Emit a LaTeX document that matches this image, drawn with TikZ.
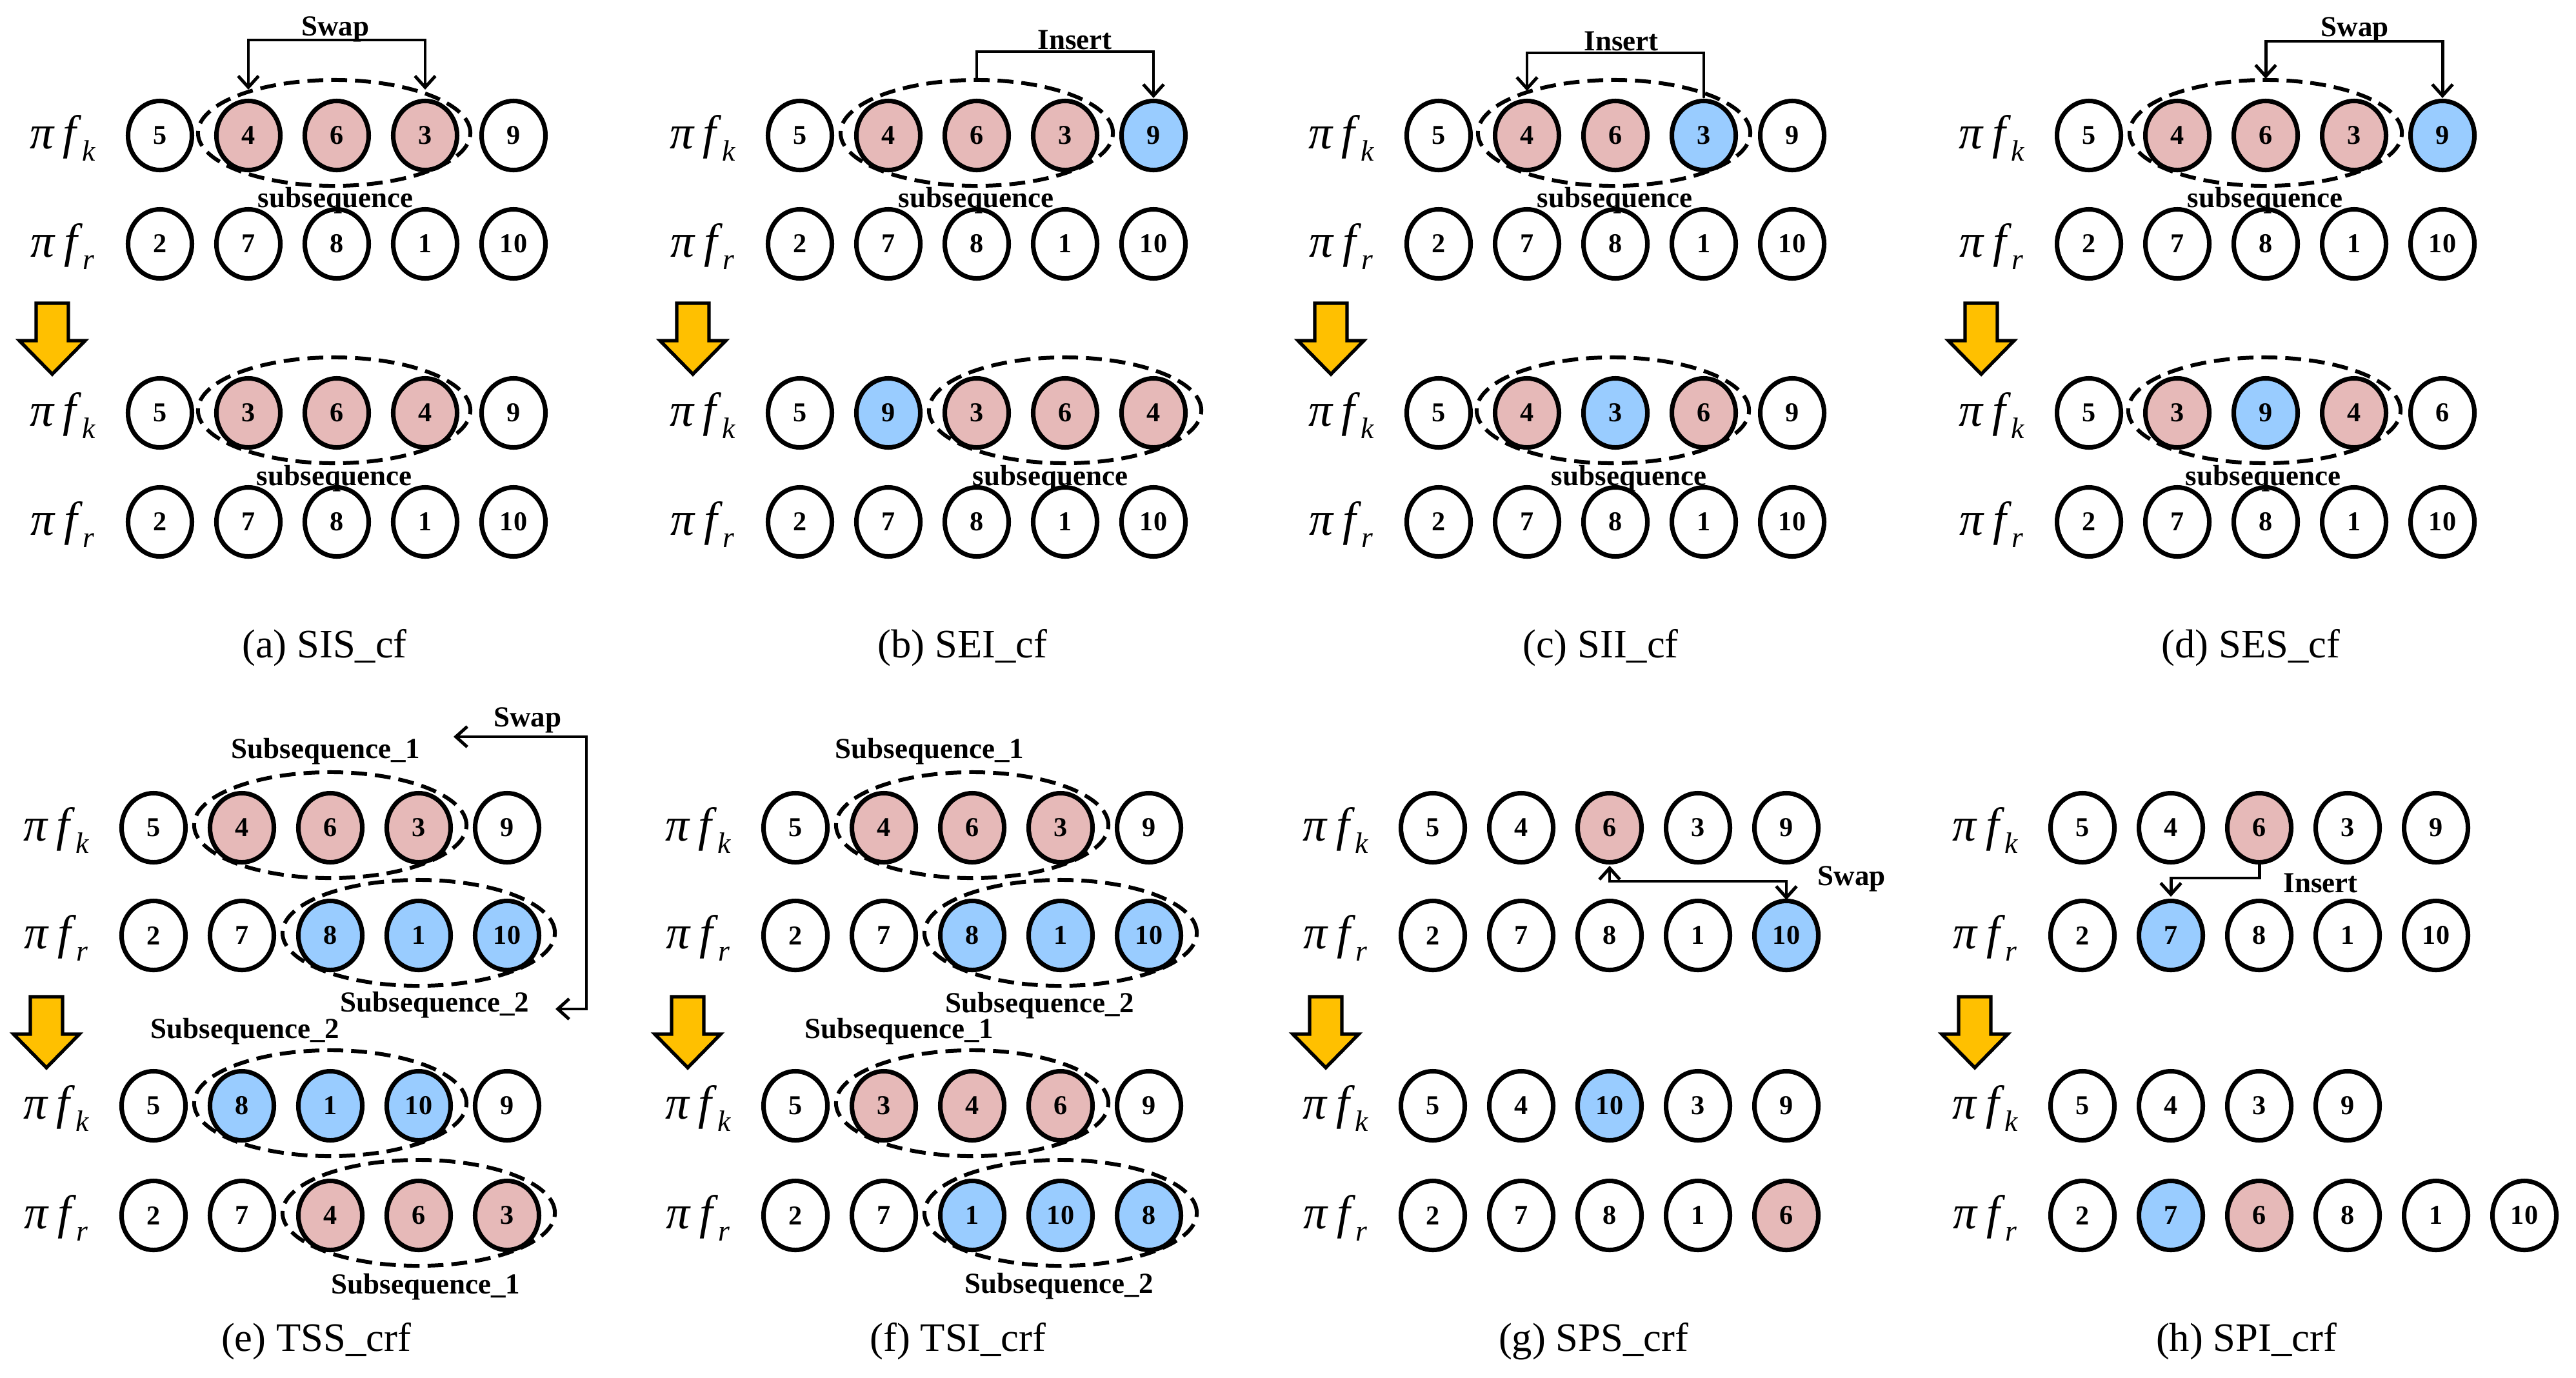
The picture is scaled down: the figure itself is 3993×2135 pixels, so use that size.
\documentclass[tikz,border=0pt]{standalone}
\usepackage{fontspec}
\setmainfont{Liberation Serif}
\usetikzlibrary{shapes.geometric,arrows.meta,calc}
\definecolor{pinkc}{HTML}{E6B9B8}
\definecolor{bluec}{HTML}{99CCFF}
\definecolor{yellowc}{HTML}{FFC000}
\newcommand\numfont{\fontsize{12}{14}\selectfont\bfseries}
\newcommand\lblfont{\fontsize{12.8}{15}\selectfont\bfseries}
\newcommand\capfont{\fontsize{17.8}{20}\selectfont}
\newcommand\pifont{\fontsize{21}{24}\selectfont\itshape}
\newcommand\subfont{\fontsize{13}{15}\selectfont\itshape}
\newcommand\permrow[4]{%
  \foreach \v/\c [count=\i] in {#4} {
    \node[cell, fill=\c] (#1-\i) at ({#2+137*(\i-1)},#3) {\v};
  }}
\newcommand\pilabel[4]{%
  \node[pilbl] (#1) at (#2,#3) {\pifont π\hspace{0.2em}f\hspace{0.12em}\raisebox{-0.26em}{\subfont #4}};}
\newcommand\yelarrow[3]{%
  \draw[yarr, shift={(#2,#3)}] (-25,0) -- (25,0) -- (25,58) -- (51,58) -- (0,110) -- (-51,58) -- (-25,58) -- cycle;}
\tikzset{
  cell/.style={ellipse, draw, line width=2pt, minimum width=0.99cm, minimum height=1.07cm, inner sep=0pt, font=\numfont},
  subseq/.style={ellipse, draw, line width=1.7pt, dash pattern=on 7pt off 3.5pt, minimum width=4.22cm, minimum height=1.64cm, inner sep=0pt},
  pilbl/.style={anchor=base, inner sep=0pt},
  lbl/.style={anchor=base, inner sep=0pt, font=\lblfont},
  capt/.style={anchor=base, inner sep=0pt, font=\capfont},
  link/.style={line width=1.4pt, line cap=round, line join=miter},
  barb/.tip={Straight Barb[length=5pt,width=9pt]},
  yarr/.style={draw=black, fill=yellowc, line width=1.5pt, line join=miter}
}
\begin{document}
\begin{tikzpicture}[x=0.01cm, y=-0.01cm]
\fill[white] (0,0) rectangle (3993,2135);
\useasboundingbox (0,0) rectangle (3993,2135);

% ===================== (a) SIS_cf =====================
\permrow{a1}{248}{210}{5/white,4/pinkc,6/pinkc,3/pinkc,9/white}
\permrow{a2}{248}{378}{2/white,7/white,8/white,1/white,10/white}
\permrow{a3}{248}{640}{5/white,3/pinkc,6/pinkc,4/pinkc,9/white}
\permrow{a4}{248}{809}{2/white,7/white,8/white,1/white,10/white}
\pilabel{a-p1}{97}{230}{k}
\pilabel{a-p2}{97}{398}{r}
\pilabel{a-p3}{97}{660}{k}
\pilabel{a-p4}{97}{829}{r}
\node[subseq] (a-e1) at (518,206) {};
\node[subseq] (a-e3) at (518,636) {};
\node[lbl] (a-l1) at (520,321) {subsequence};
\node[lbl] (a-l3) at (518,752) {subsequence};
\coordinate (a-t1) at (385,139);
\coordinate (a-t2) at (659,139);
\coordinate (a-bar) at (522,62);
\draw[link, barb-barb] (a-t1) |- (a-bar) -| (a-t2);
\node[lbl] (a-sw) at (520,55) {Swap};
\yelarrow{a-y}{81}{470}
\node[capt] (a-cap) at (503,1019) {(a) SIS\_cf};

% ===================== (b) SEI_cf =====================
\permrow{b1}{1240}{210}{5/white,4/pinkc,6/pinkc,3/pinkc,9/bluec}
\permrow{b2}{1240}{378}{2/white,7/white,8/white,1/white,10/white}
\permrow{b3}{1240}{640}{5/white,9/bluec,3/pinkc,6/pinkc,4/pinkc}
\permrow{b4}{1240}{809}{2/white,7/white,8/white,1/white,10/white}
\pilabel{b-p1}{1089}{230}{k}
\pilabel{b-p2}{1089}{398}{r}
\pilabel{b-p3}{1089}{660}{k}
\pilabel{b-p4}{1089}{829}{r}
\node[subseq] (b-e1) at (1514,206) {};
\node[subseq] (b-e3) at (1651,636) {};
\node[lbl] (b-l1) at (1513,321) {subsequence};
\node[lbl] (b-l3) at (1628,752) {subsequence};
\coordinate (b-t) at (1788,152);
\coordinate (b-bar) at (1650,80);
\draw[link, -barb] (b-e1.north) |- (b-bar) -| (b-t);
\node[lbl] (b-in) at (1666,76) {Insert};
\yelarrow{b-y}{1074}{470}
\node[capt] (b-cap) at (1492,1019) {(b) SEI\_cf};

% ===================== (c) SII_cf =====================
\permrow{c1}{2230}{210}{5/white,4/pinkc,6/pinkc,3/bluec,9/white}
\permrow{c2}{2230}{378}{2/white,7/white,8/white,1/white,10/white}
\permrow{c3}{2230}{640}{5/white,4/pinkc,3/bluec,6/pinkc,9/white}
\permrow{c4}{2230}{809}{2/white,7/white,8/white,1/white,10/white}
\pilabel{c-p1}{2079}{230}{k}
\pilabel{c-p2}{2079}{398}{r}
\pilabel{c-p3}{2079}{660}{k}
\pilabel{c-p4}{2079}{829}{r}
\node[subseq] (c-e1) at (2502,206) {};
\node[subseq] (c-e3) at (2500,636) {};
\node[lbl] (c-l1) at (2503,321) {subsequence};
\node[lbl] (c-l3) at (2525,752) {subsequence};
\coordinate (c-s) at (2641,150);
\coordinate (c-t) at (2367,141);
\coordinate (c-bar) at (2500,82);
\draw[link, -barb] (c-s) |- (c-bar) -| (c-t);
\node[lbl] (c-in) at (2513,78) {Insert};
\yelarrow{c-y}{2063}{470}
\node[capt] (c-cap) at (2481,1019) {(c) SII\_cf};

% ===================== (d) SES_cf =====================
\permrow{d1}{3238}{210}{5/white,4/pinkc,6/pinkc,3/pinkc,9/bluec}
\permrow{d2}{3238}{378}{2/white,7/white,8/white,1/white,10/white}
\permrow{d3}{3238}{640}{5/white,3/pinkc,9/bluec,4/pinkc,6/white}
\permrow{d4}{3238}{809}{2/white,7/white,8/white,1/white,10/white}
\pilabel{d-p1}{3087}{230}{k}
\pilabel{d-p2}{3087}{398}{r}
\pilabel{d-p3}{3087}{660}{k}
\pilabel{d-p4}{3087}{829}{r}
\node[subseq] (d-e1) at (3512,206) {};
\node[subseq] (d-e3) at (3510,636) {};
\node[lbl] (d-l1) at (3511,321) {subsequence};
\node[lbl] (d-l3) at (3508,752) {subsequence};
\coordinate (d-t1) at (3512,122);
\coordinate (d-t2) at (3786,152);
\coordinate (d-bar) at (3650,64);
\draw[link, barb-barb] (d-t1) |- (d-bar) -| (d-t2);
\node[lbl] (d-sw) at (3650,56) {Swap};
\yelarrow{d-y}{3071}{470}
\node[capt] (d-cap) at (3489,1019) {(d) SES\_cf};

% ===================== (e) TSS_crf =====================
\permrow{e1}{238}{1283}{5/white,4/pinkc,6/pinkc,3/pinkc,9/white}
\permrow{e2}{238}{1450}{2/white,7/white,8/bluec,1/bluec,10/bluec}
\permrow{e3}{238}{1714}{5/white,8/bluec,1/bluec,10/bluec,9/white}
\permrow{e4}{238}{1884}{2/white,7/white,4/pinkc,6/pinkc,3/pinkc}
\pilabel{e-p1}{87}{1303}{k}
\pilabel{e-p2}{87}{1470}{r}
\pilabel{e-p3}{87}{1734}{k}
\pilabel{e-p4}{87}{1904}{r}
\node[subseq] (e-e1) at (512,1279) {};
\node[subseq] (e-e2) at (649,1446) {};
\node[subseq] (e-e3) at (512,1710) {};
\node[subseq] (e-e4) at (649,1880) {};
\node[lbl] (e-l1) at (505,1175) {Subsequence\_1};
\node[lbl] (e-l2) at (674,1568) {Subsequence\_2};
\node[lbl] (e-l3) at (380,1609) {Subsequence\_2};
\node[lbl] (e-l4) at (660,2005) {Subsequence\_1};
\coordinate (e-t1) at (703,1142);
\coordinate (e-c1) at (909,1142);
\coordinate (e-c2) at (909,1564);
\coordinate (e-t2) at (861,1564);
\draw[link, barb-barb] (e-t1) -- (e-c1) -- (e-c2) -- (e-t2);
\node[lbl] (e-sw) at (818,1126) {Swap};
\yelarrow{e-y}{72}{1545}
\node[capt] (e-cap) at (490,2094) {(e) TSS\_crf};

% ===================== (f) TSI_crf =====================
\permrow{f1}{1233}{1283}{5/white,4/pinkc,6/pinkc,3/pinkc,9/white}
\permrow{f2}{1233}{1450}{2/white,7/white,8/bluec,1/bluec,10/bluec}
\permrow{f3}{1233}{1714}{5/white,3/pinkc,4/pinkc,6/pinkc,9/white}
\permrow{f4}{1233}{1884}{2/white,7/white,1/bluec,10/bluec,8/bluec}
\pilabel{f-p1}{1082}{1303}{k}
\pilabel{f-p2}{1082}{1470}{r}
\pilabel{f-p3}{1082}{1734}{k}
\pilabel{f-p4}{1082}{1904}{r}
\node[subseq] (f-e1) at (1507,1279) {};
\node[subseq] (f-e2) at (1644,1446) {};
\node[subseq] (f-e3) at (1507,1710) {};
\node[subseq] (f-e4) at (1644,1880) {};
\node[lbl] (f-l1) at (1441,1175) {Subsequence\_1};
\node[lbl] (f-l2) at (1612,1569) {Subsequence\_2};
\node[lbl] (f-l3) at (1394,1609) {Subsequence\_1};
\node[lbl] (f-l4) at (1642,2004) {Subsequence\_2};
\yelarrow{f-y}{1066}{1545}
\node[capt] (f-cap) at (1485,2094) {(f) TSI\_crf};

% ===================== (g) SPS_crf =====================
\permrow{g1}{2221}{1283}{5/white,4/white,6/pinkc,3/white,9/white}
\permrow{g2}{2221}{1450}{2/white,7/white,8/white,1/white,10/bluec}
\permrow{g3}{2221}{1714}{5/white,4/white,10/bluec,3/white,9/white}
\permrow{g4}{2221}{1884}{2/white,7/white,8/white,1/white,6/pinkc}
\pilabel{g-p1}{2070}{1303}{k}
\pilabel{g-p2}{2070}{1470}{r}
\pilabel{g-p3}{2070}{1734}{k}
\pilabel{g-p4}{2070}{1904}{r}
\coordinate (g-t1) at (2495,1342);
\coordinate (g-t2) at (2769,1395);
\coordinate (g-bar) at (2630,1366);
\draw[link, barb-barb] (g-t1) |- (g-bar) -| (g-t2);
\node[lbl] (g-sw) at (2870,1372) {Swap};
\yelarrow{g-y}{2055}{1545}
\node[capt] (g-cap) at (2470,2094) {(g) SPS\_crf};

% ===================== (h) SPI_crf =====================
\permrow{h1}{3228}{1283}{5/white,4/white,6/pinkc,3/white,9/white}
\permrow{h2}{3228}{1450}{2/white,7/bluec,8/white,1/white,10/white}
\permrow{h3}{3228}{1714}{5/white,4/white,3/white,9/white}
\permrow{h4}{3228}{1884}{2/white,7/bluec,6/pinkc,8/white,1/white,10/white}
\pilabel{h-p1}{3077}{1303}{k}
\pilabel{h-p2}{3077}{1470}{r}
\pilabel{h-p3}{3077}{1734}{k}
\pilabel{h-p4}{3077}{1904}{r}
\coordinate (h-t) at (3365,1390);
\coordinate (h-bar) at (3430,1361);
\draw[link, -barb] (h1-3.south) |- (h-bar) -| (h-t);
\node[lbl] (h-in) at (3597,1383) {Insert};
\yelarrow{h-y}{3061}{1545}
\node[capt] (h-cap) at (3482,2094) {(h) SPI\_crf};
\end{tikzpicture}
\end{document}
